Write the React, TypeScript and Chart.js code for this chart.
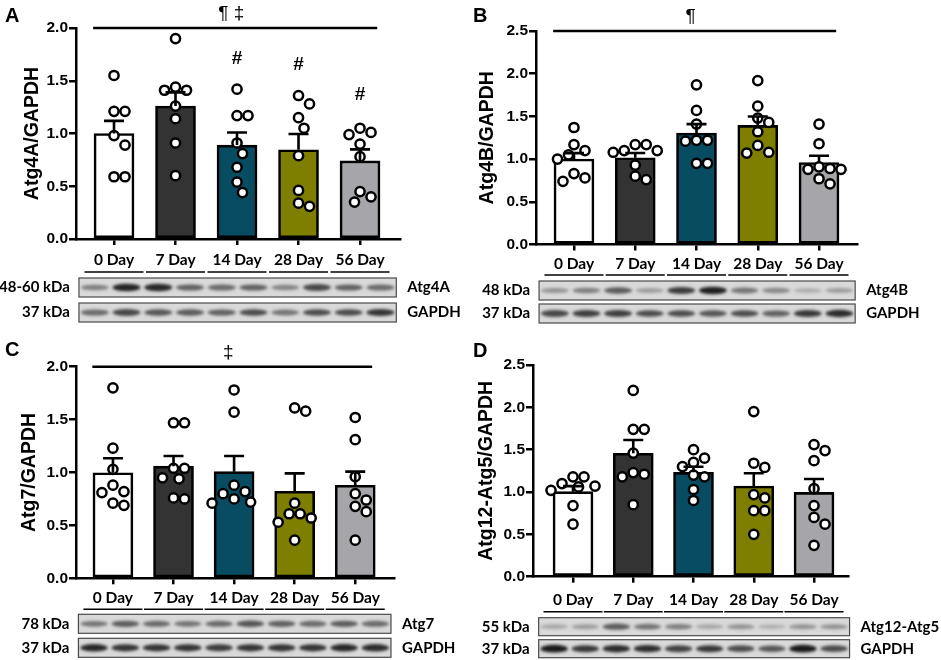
import React, { useEffect, useRef } from 'react';
import Chart from 'chart.js/auto';

const days = ['0 Day', '7 Day', '14 Day', '28 Day', '56 Day'];
const barColors = ['#ffffff', '#333333', '#084c61', '#7e7e00', '#a6a6aa'];

// Atg4A / GAPDH
const atg4aMean = [1.0, 1.26, 0.89, 0.845, 0.74];
const atg4aSem = [0.12, 0.13, 0.12, 0.15, 0.11];
const atg4aPoints = [
  [1.55, 1.21, 1.21, 0.98, 0.89, 0.59, 0.59],
  [1.9, 1.44, 1.41, 1.41, 1.26, 1.14, 0.91, 0.6],
  [1.42, 1.17, 1.17, 0.91, 0.81, 0.68, 0.54, 0.44],
  [1.36, 1.28, 1.15, 1.05, 0.79, 0.46, 0.31, 0.34],
  [1.05, 0.99, 1.01, 0.9, 0.78, 0.45, 0.35, 0.4],
];
const atg4aHash = [null, null, 1.71, 1.65, 1.37];
const atg4aBands = [0.45, 0.9, 0.88, 0.6, 0.55, 0.6, 0.42, 0.72, 0.6, 0.55];
const atg4aGapdh = [0.55, 0.72, 0.65, 0.62, 0.6, 0.7, 0.5, 0.7, 0.7, 0.82];

// Atg4B / GAPDH
const atg4bMean = [1.0, 1.016, 1.305, 1.394, 0.96];
const atg4bSem = [0.07, 0.055, 0.105, 0.105, 0.08];
const atg4bPoints = [
  [1.37, 1.17, 1.1, 1.05, 1.0, 0.83, 0.78, 0.74],
  [1.17, 1.17, 1.1, 1.1, 1.08, 0.93, 0.8, 0.76],
  [1.87, 1.57, 1.41, 1.22, 1.21, 1.22, 0.95, 0.95],
  [1.92, 1.62, 1.48, 1.43, 1.32, 1.16, 1.07, 1.08],
  [1.41, 1.18, 0.91, 0.89, 0.88, 0.88, 0.77, 0.71],
];
const atg4bBands = [0.35, 0.45, 0.62, 0.3, 0.78, 0.92, 0.5, 0.4, 0.22, 0.3];
const atg4bGapdh = [0.72, 0.76, 0.76, 0.7, 0.7, 0.65, 0.7, 0.6, 0.8, 0.86];

// Atg7 / GAPDH
const atg7Mean = [0.998, 1.06, 1.008, 0.822, 0.879];
const atg7Sem = [0.136, 0.096, 0.148, 0.17, 0.129];
const atg7Points = [
  [1.8, 1.23, 1.03, 0.88, 0.82, 0.81, 0.69, 0.71],
  [1.47, 1.47, 1.04, 1.04, 0.95, 0.94, 0.75, 0.76],
  [1.78, 1.57, 0.88, 0.82, 0.8, 0.75, 0.71, 0.72],
  [1.61, 1.58, 0.71, 0.61, 0.57, 0.53, 0.61, 0.36],
  [1.52, 1.31, 0.96, 0.8, 0.74, 0.68, 0.63, 0.36],
];
const atg7Bands = [0.5, 0.62, 0.55, 0.5, 0.55, 0.66, 0.6, 0.55, 0.62, 0.55];
const atg7Gapdh = [0.88, 0.82, 0.82, 0.82, 0.78, 0.82, 0.82, 0.82, 0.88, 0.86];

// Atg12-Atg5 / GAPDH
const atg12Mean = [1.004, 1.457, 1.232, 1.071, 0.996];
const atg12Sem = [0.066, 0.157, 0.067, 0.15, 0.157];
const atg12Points = [
  [1.18, 1.18, 1.07, 1.06, 1.02, 1.1, 0.84, 0.62],
  [2.2, 1.74, 1.74, 1.46, 1.21, 1.18, 1.23, 0.85],
  [1.5, 1.35, 1.4, 1.3, 1.18, 1.2, 1.03, 0.9],
  [1.95, 1.34, 1.29, 0.97, 0.93, 0.78, 0.78, 0.5],
  [1.56, 1.49, 1.37, 1.04, 0.84, 0.7, 0.62, 0.37],
];
const atg12Bands = [0.25, 0.3, 0.62, 0.5, 0.45, 0.25, 0.35, 0.2, 0.35, 0.35];
const atg12Gapdh = [0.95, 0.8, 0.86, 0.85, 0.75, 0.8, 0.7, 0.65, 0.95, 0.7];

const ARIAL = "'Liberation Sans', Arial, sans-serif";
const CALIBRI = "Lato, 'Open Sans', sans-serif";

// simple beeswarm so overlapping dots sit side by side
function swarm(values, center, pxX, pxY, d = 11) {
  const order = values.map((_, i) => i).sort((a, b) => values[b] - values[a]);
  const placed = [];
  const out = new Array(values.length);
  order.forEach((i) => {
    const py = values[i] * pxY;
    let off = 0;
    for (let k = 0; k < 30; k++) {
      const cand = k === 0 ? 0 : (k % 2 ? 1 : -1) * Math.ceil(k / 2) * (d / 2);
      if (placed.every((p) => Math.hypot(p.x - cand, p.y - py) >= d)) {
        off = cand;
        break;
      }
    }
    placed.push({ x: off, y: py });
    out[i] = { x: center + off / pxX, y: values[i] };
  });
  return out;
}

function Panel(props) {
  const ref = useRef(null);
  const p = props;

  useEffect(() => {
    if (!ref.current) return;
    const a = p.area;
    const pxX = (a.right - a.left) / (p.xMax - p.xMin);
    const pxY = (a.bottom - a.top) / p.yMax;
    const dots = p.points.flatMap((vals, i) => swarm(vals, i, pxX, pxY));

    const extras = {
      id: 'extras',
      afterDatasetsDraw(chart) {
        const ctx = chart.ctx;
        const xs = chart.scales.x;
        const ys = chart.scales.y;
        ctx.save();
        ctx.strokeStyle = '#000';
        ctx.lineWidth = 2.6;
        p.means.forEach((m, i) => {
          const x = xs.getPixelForValue(i);
          const y0 = ys.getPixelForValue(m);
          const y1 = ys.getPixelForValue(m + p.sems[i]);
          ctx.beginPath();
          ctx.moveTo(x, y0);
          ctx.lineTo(x, y1);
          ctx.moveTo(x - 10, y1);
          ctx.lineTo(x + 10, y1);
          ctx.stroke();
        });
        ctx.restore();
      },
      afterDraw(chart) {
        const ctx = chart.ctx;
        const xs = chart.scales.x;
        const ys = chart.scales.y;
        const area = chart.chartArea;
        const unit = xs.getPixelForValue(1) - xs.getPixelForValue(0);
        ctx.save();
        ctx.fillStyle = '#000';
        ctx.strokeStyle = '#000';

        // panel letter
        ctx.font = `bold 20px ${ARIAL}`;
        ctx.textAlign = 'left';
        ctx.textBaseline = 'middle';
        ctx.fillText(p.letter, p.letterX, p.letterY);

        // significance line
        if (p.sig) {
          const x0 = xs.getPixelForValue(-0.34);
          const x1 = xs.getPixelForValue(4.28);
          ctx.lineWidth = 2.5;
          ctx.beginPath();
          ctx.moveTo(x0, area.top);
          ctx.lineTo(x1, area.top);
          ctx.stroke();
          ctx.font = `19px ${ARIAL}`;
          ctx.textAlign = 'center';
          ctx.fillText(p.sig, (x0 + x1) / 2 - 4, area.top - 14);
        }

        // # markers
        if (p.hashes) {
          ctx.font = `bold 19px ${ARIAL}`;
          ctx.textAlign = 'center';
          p.hashes.forEach((v, i) => {
            if (v == null) return;
            ctx.fillText('#', xs.getPixelForValue(i), ys.getPixelForValue(v));
          });
        }

        // underlines beneath group labels
        ctx.lineWidth = 1.5;
        days.forEach((_, i) => {
          const x = xs.getPixelForValue(i);
          const y = area.bottom + p.underline;
          ctx.beginPath();
          ctx.moveTo(x - 29.5, y);
          ctx.lineTo(x + 29.5, y);
          ctx.stroke();
        });

        // western blot strips
        const bl = xs.getPixelForValue(0) - 0.57 * unit;
        const br = xs.getPixelForValue(4) + 0.59 * unit;
        const laneW = (br - bl) / 10;
        p.blots.forEach((b) => {
          const top = area.bottom + b.offset;
          const h = p.blotH;
          ctx.save();
          ctx.beginPath();
          ctx.rect(bl, top, br - bl, h);
          ctx.clip();
          ctx.fillStyle = '#d9d9d9';
          ctx.fillRect(bl, top, br - bl, h);
          ctx.filter = 'blur(1.4px)';
          b.bands.forEach((v, j) => {
            ctx.fillStyle = `rgba(15,15,15,${v})`;
            ctx.beginPath();
            ctx.ellipse(bl + (j + 0.5) * laneW, top + h / 2, laneW * 0.44, 1.8 + v * 2.2, 0, 0, Math.PI * 2);
            ctx.fill();
          });
          ctx.restore();
          ctx.strokeStyle = '#4a4a4a';
          ctx.lineWidth = 1.2;
          ctx.strokeRect(bl, top, br - bl, h);
          ctx.fillStyle = '#000';
          ctx.font = `bold 15px ${CALIBRI}`;
          ctx.textBaseline = 'middle';
          ctx.textAlign = 'right';
          ctx.fillText(b.kda, bl - 9, top + h / 2);
          ctx.textAlign = 'left';
          ctx.fillText(b.name, br + 11, top + h / 2);
        });
        ctx.restore();
      },
    };

    const chart = new Chart(ref.current, {
      type: 'bar',
      data: {
        datasets: [
          {
            type: 'scatter',
            data: dots,
            order: 1,
            pointRadius: 4.6,
            pointBorderWidth: 2.5,
            pointBackgroundColor: '#ffffff',
            pointBorderColor: '#000000',
            clip: false,
          },
          {
            type: 'bar',
            data: p.means.map((m, i) => ({ x: i, y: m })),
            order: 2,
            backgroundColor: barColors,
            borderColor: '#000000',
            borderWidth: 2.6,
            borderSkipped: false,
            barThickness: 40,
          },
        ],
      },
      options: {
        responsive: false,
        animation: false,
        events: [],
        layout: {
          padding: {
            left: p.titleX - 11.4,
            top: a.top,
            right: p.width - a.right,
            bottom: 0,
          },
        },
        plugins: { legend: { display: false }, tooltip: { enabled: false } },
        scales: {
          x: {
            type: 'linear',
            min: p.xMin,
            max: p.xMax,
            offset: false,
            afterBuildTicks: (s) => {
              s.ticks = days.map((_, i) => ({ value: i }));
            },
            afterFit: (s) => {
              s.height = p.height - a.bottom;
            },
            ticks: {
              color: '#000',
              padding: p.tickPad,
              maxRotation: 0,
              autoSkip: false,
              font: { family: CALIBRI, size: 15.5, weight: 'bold' },
              callback: (v) => days[v],
            },
            grid: {
              offset: false,
              drawOnChartArea: false,
              drawTicks: true,
              tickLength: 6,
              color: '#000',
              lineWidth: 2.5,
            },
            border: { display: true, color: '#000', width: 2.5 },
          },
          y: {
            min: 0,
            max: p.yMax,
            afterFit: (s) => {
              s.width = a.left - (p.titleX - 11.4);
            },
            ticks: {
              stepSize: 0.5,
              color: '#000',
              padding: 1,
              font: { family: ARIAL, size: 15.5, weight: 'bold' },
              callback: (v) => Number(v).toFixed(1),
            },
            grid: {
              drawOnChartArea: false,
              drawTicks: true,
              tickLength: 7,
              color: '#000',
              lineWidth: 2.5,
            },
            border: { display: true, color: '#000', width: 2.5 },
            title: {
              display: true,
              text: p.yTitle,
              color: '#000',
              padding: 0,
              font: { family: ARIAL, size: 19.5, weight: 'bold' },
            },
          },
        },
      },
      plugins: [extras],
    });

    return () => {
      chart.destroy();
    };
  }, []);

  return (
    <canvas
      ref={ref}
      width={p.width}
      height={p.height}
      style={{ position: 'absolute', left: p.left, top: p.top, width: p.width, height: p.height }}
    />
  );
}

export default function App() {
  return (
    <div style={{ position: 'absolute', left: 0, top: 0, width: 941, height: 660, background: '#fff' }}>
      <Panel
        letter="A" letterX={5} letterY={16}
        left={0} top={0} width={470} height={330}
        area={{ left: 76, right: 400, top: 28, bottom: 239 }}
        xMin={-0.618} xMax={4.65} yMax={2} titleX={32}
        yTitle="Atg4A/GAPDH" sig="¶ ‡" hashes={atg4aHash}
        means={atg4aMean} sems={atg4aSem} points={atg4aPoints}
        tickPad={5.5} underline={33} blotH={19}
        blots={[
          { offset: 39, kda: '48-60 kDa', name: 'Atg4A', bands: atg4aBands },
          { offset: 64, kda: '37 kDa', name: 'GAPDH', bands: atg4aGapdh },
        ]}
      />
      <Panel
        letter="B" letterX={3} letterY={16}
        left={470} top={0} width={471} height={330}
        area={{ left: 66, right: 387, top: 31, bottom: 244.5 }}
        xMin={-0.62} xMax={4.62} yMax={2.5} titleX={17}
        yTitle="Atg4B/GAPDH" sig="¶"
        means={atg4bMean} sems={atg4bSem} points={atg4bPoints}
        tickPad={4} underline={30.5} blotH={19}
        blots={[
          { offset: 36.5, kda: '48 kDa', name: 'Atg4B', bands: atg4bBands },
          { offset: 59.5, kda: '37 kDa', name: 'GAPDH', bands: atg4bGapdh },
        ]}
      />
      <Panel
        letter="C" letterX={5} letterY={20}
        left={0} top={330} width={470} height={330}
        area={{ left: 76, right: 394, top: 36.7, bottom: 248.3 }}
        xMin={-0.61} xMax={4.64} yMax={2} titleX={29}
        yTitle="Atg7/GAPDH" sig="‡"
        means={atg7Mean} sems={atg7Sem} points={atg7Points}
        tickPad={4.5} underline={31} blotH={19}
        blots={[
          { offset: 36, kda: '78 kDa', name: 'Atg7', bands: atg7Bands },
          { offset: 60, kda: '37 kDa', name: 'GAPDH', bands: atg7Gapdh },
        ]}
      />
      <Panel
        letter="D" letterX={3} letterY={21.5}
        left={470} top={330} width={471} height={330}
        area={{ left: 63, right: 378, top: 35, bottom: 246.7 }}
        xMin={-0.664} xMax={4.564} yMax={2.5} titleX={16}
        yTitle="Atg12-Atg5/GAPDH"
        means={atg12Mean} sems={atg12Sem} points={atg12Points}
        tickPad={7.5} underline={35} blotH={18}
        blots={[
          { offset: 41, kda: '55 kDa', name: 'Atg12-Atg5', bands: atg12Bands },
          { offset: 63, kda: '37 kDa', name: 'GAPDH', bands: atg12Gapdh },
        ]}
      />
    </div>
  );
}
